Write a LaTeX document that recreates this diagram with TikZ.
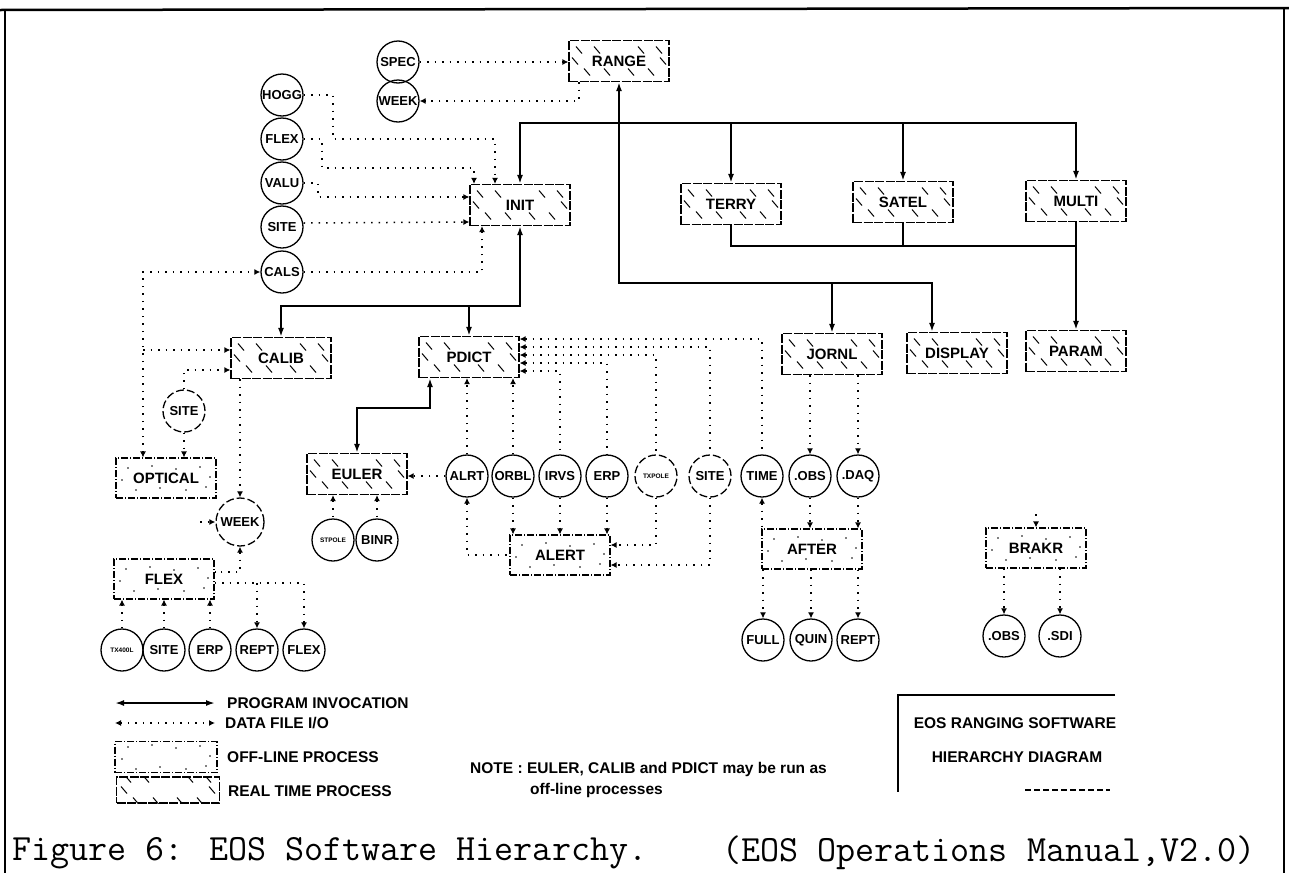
\documentclass[tikz,border=0pt]{standalone}
\usepackage{fontspec}
\newfontfamily\diafont{Liberation Sans}
\usepackage{tikz}
\usetikzlibrary{arrows.meta}

\begin{document}
\begin{tikzpicture}[x=1pt,y=-1pt]
    \tikzstyle{arrow} = [line width=1.8pt, >={Latex[length=9pt,width=6pt]}]
    \tikzstyle{data} = [line width=1.5pt, dash pattern=on 1.5pt off 6pt, >={Latex[length=6pt,width=6pt]}]
    \tikzstyle{realtime} = [draw, line width=1.2pt, dash pattern=on 9pt off 1.5pt,
        minimum width=100pt, minimum height=41pt, inner sep=0pt,
        font={\diafont\bfseries\fontsize{15}{17}\selectfont},
        path picture={
          \foreach \dx/\dy in {-40/11,-22/11,22/11,40/11,-32/-11,-12/-11,12/-11,32/-11,-44/0,44/0}
            \draw[solid, line width=1pt] ([shift={(\dx pt,\dy pt)}]path picture bounding box.center)
              ++(-3pt,3.5pt) -- ++(6pt,-7pt);
        }]
    \tikzstyle{offline} = [draw, line width=1.1pt, dash pattern=on 7pt off 2pt on 1pt off 2pt,
        minimum width=100pt, minimum height=40pt, inner sep=0pt,
        font={\diafont\bfseries\fontsize{15}{17}\selectfont},
        path picture={
          \foreach \dx/\dy in {-38/10,-14/12,10/9,34/11,-44/-2,44/1,-30/-12,-6/-10,20/-12,40/-9}
            \fill ([shift={(\dx pt,\dy pt)}]path picture bounding box.center) circle (0.9pt);
        }]
    \tikzstyle{file} = [draw, circle, line width=1.3pt, minimum size=42pt, inner sep=0pt,
        font={\diafont\bfseries\fontsize{13}{15}\selectfont}]
    \tikzstyle{scratch} = [file, dash pattern=on 8pt off 3pt]
    \tikzstyle{tiny} = [font={\diafont\bfseries\fontsize{6.5}{7}\selectfont}]
    \tikzstyle{legend} = [anchor=west, inner sep=0pt, font={\diafont\bfseries\fontsize{15.5}{17}\selectfont}]
    \useasboundingbox (0,0) rectangle (1289,873);

    % Frame
    \draw[line width=2.5pt] (0,10) -- (1289,8);
    \draw[line width=2pt] (5,10) -- (5,873);
    \draw[line width=2pt] (1284,8) -- (1284,873);

    % Top process and its files
    \node [realtime] (Range) at (619,61) {RANGE};
    \node [file] (Spec) at (398,62) {SPEC};
    \node [file] (WeekIn) at (398,101) {WEEK};
    \draw [data,->] (Spec.east) -- (Spec.east -| Range.west);
    \draw [data,->] ([xshift=-40pt]Range.south) |- (WeekIn.east);

    % Second level, called from RANGE
    \node [realtime] (Init) at (520,205) {INIT};
    \node [realtime] (Terry) at (731,204) {TERRY};
    \node [realtime] (Satel) at (903,202) {SATEL};
    \node [realtime] (Multi) at (1076,201) {MULTI};
    \coordinate (RangeBus) at (619,123);
    \draw [arrow,<-] (Range.south) -- (RangeBus);
    \draw [arrow,->] (RangeBus) -| (Init.north);
    \draw [arrow,->] (RangeBus) -| (Multi.north);
    \draw [arrow,->] (Terry.north |- RangeBus) -- (Terry.north);
    \draw [arrow,->] (Satel.north |- RangeBus) -- (Satel.north);

    % Files read by INIT
    \node [file] (Hogg) at (282,95) {HOGG};
    \node [file] (FlexIn) at (282,139) {FLEX};
    \node [file] (Valu) at (282,183) {VALU};
    \node [file] (SiteIn) at (282,227) {SITE};
    \node [file] (Cals) at (282,272) {CALS};
    \draw [data,->] (Hogg.east) -| (333,139) -| ([xshift=-25pt]Init.north);
    \draw [data,->] (FlexIn.east) -| (322,168) -| ([xshift=-46pt]Init.north);
    \draw [data,->] (Valu.east) -| (318,197) -- ([yshift=8pt]Init.west);
    \draw [data,->] ([yshift=4pt]SiteIn.east) -- ([yshift=-17pt]Init.west);
    \draw [data,->] (Cals.east) -| ([xshift=-38pt]Init.south);

    % TERRY, SATEL and MULTI call PARAM
    \node [realtime] (Param) at (1076,351) {PARAM};
    \coordinate (ParamBus) at (1076,246);
    \draw [arrow] (Terry.south) |- (ParamBus);
    \draw [arrow] (Satel.south) -- (Satel.south |- ParamBus);
    \draw [arrow,->] (Multi.south) -- (Param.north);

    % RANGE calls JORNL and DISPLAY
    \node [realtime] (Jornl) at (832,354) {JORNL};
    \node [realtime] (Display) at (957,353) {DISPLAY};
    \coordinate (JornlBus) at (832,283);
    \draw [arrow,->] (RangeBus) |- (JornlBus) -- (Jornl.north);
    \draw [arrow,->] (JornlBus) -| ([xshift=-25pt]Display.north);

    % INIT calls CALIB and PDICT
    \node [realtime] (Calib) at (281,358) {CALIB};
    \node [realtime] (Pdict) at (469,357) {PDICT};
    \coordinate (InitBus) at (520,306);
    \draw [arrow,<->] (Init.south) -- (InitBus) -| (Calib.north);
    \draw [arrow,->] (Pdict.north |- InitBus) -- (Pdict.north);

    % CALIB, OPTICAL and WEEK
    \node [offline] (Optical) at (166,478) {OPTICAL};
    \node [scratch] (SiteCal) at (184,411) {SITE};
    \node [scratch, minimum size=48pt] (WeekOpt) at (240,522) {WEEK};
    \coordinate (CalsDrop) at (143,350);
    \coordinate (WeekStub) at (200,522);
    \draw [data,<->] ([xshift=-23pt]Optical.north) |- (Cals.west);
    \draw [data,->] (CalsDrop) -- (CalsDrop -| Calib.west);
    \draw [data,->] (SiteCal.north) |- ([yshift=-12pt]Calib.west);
    \draw [data,->] (SiteCal.south) -- (SiteCal.south |- Optical.north);
    \draw [data,->] ([xshift=-41pt]Calib.south) -- (WeekOpt.north);
    \draw [data,->] (WeekStub) -- (WeekOpt.west);

    % FLEX and its files
    \node [offline] (FlexBox) at (164,579) {FLEX};
    \node [file, tiny] (TxFile) at (122,650) {TX400L};
    \node [file] (SiteOpt) at (164,650) {SITE};
    \node [file] (ErpOpt) at (210,650) {ERP};
    \node [file] (ReptOpt) at (257,650) {REPT};
    \node [file] (FlexOut) at (304,650) {FLEX};
    \coordinate (FlexTap) at (257,583);
    \draw [data,<-] (WeekOpt.south) |- ([yshift=7pt]FlexBox.east);
    \draw [data,->] ([yshift=-4pt]FlexBox.east) -| (FlexOut.north);
    \draw [data,->] (FlexTap) -- (ReptOpt.north);
    \draw [data,<-] ([xshift=-42pt]FlexBox.south) -- (TxFile.north);
    \draw [data,<-] (FlexBox.south) -- (SiteOpt.north);
    \draw [data,<-] ([xshift=46pt]FlexBox.south) -- (ErpOpt.north);

    % PDICT calls EULER
    \node [realtime] (Euler) at (357,474) {EULER};
    \node [file, tiny] (StPole) at (333,540) {STPOLE};
    \node [file] (Binr) at (377,540) {BINR};
    \draw [arrow,<->] ([xshift=-39pt]Pdict.south) -- ++(0,30) -| (Euler.north);
    \draw [data,<-] ([xshift=-24pt]Euler.south) -- (StPole.north);
    \draw [data,<-] ([xshift=20pt]Euler.south) -- (Binr.north);

    % Files of PDICT
    \node [file] (Alrt) at (467,476) {ALRT};
    \node [file] (Orbl) at (513,476) {ORBL};
    \node [file] (Irvs) at (560,476) {IRVS};
    \node [file] (ErpDict) at (607,476) {ERP};
    \node [scratch, tiny] (TxPole) at (656,476) {TXPOLE};
    \node [scratch] (SiteDict) at (710,476) {SITE};
    \node [file] (Time) at (762,476) {TIME};
    \node [file] (ObsDict) at (810,476) {.OBS};
    \node [file] (Daq) at (858,476) {.DAQ};
    \draw [data,->] (Alrt.west) -- (Alrt.west -| Euler.east);
    \draw [data,->] (Alrt.north) -- (Alrt.north |- Pdict.south);
    \draw [data,->] (Orbl.north) -- (Orbl.north |- Pdict.south);
    \draw [data,<-] ([yshift=18pt]Pdict.east) -| (Time.north);
    \draw [data,<-] ([yshift=10pt]Pdict.east) -| (SiteDict.north);
    \draw [data,<-] ([yshift=2pt]Pdict.east) -| (TxPole.north);
    \draw [data,<-] ([yshift=-6pt]Pdict.east) -| (ErpDict.north);
    \draw [data,<-] ([yshift=-14pt]Pdict.east) -| (Irvs.north);

    % ALERT
    \node [offline] (Alert) at (560,555) {ALERT};
    \draw [data,<-] (Alrt.south) |- (Alert.west);
    \draw [data,->] (Orbl.south) -- (Orbl.south |- Alert.north);
    \draw [data,->] (Irvs.south) -- (Irvs.south |- Alert.north);
    \draw [data,->] (ErpDict.south) -- (ErpDict.south |- Alert.north);
    \draw [data,->] (TxPole.south) |- ([yshift=10pt]Alert.east);
    \draw [data,->] (SiteDict.south) |- ([yshift=-10pt]Alert.east);

    % AFTER and its files
    \node [offline] (After) at (812,549) {AFTER};
    \node [file] (Full) at (763,640) {FULL};
    \node [file] (Quin) at (811,640) {QUIN};
    \node [file] (ReptAfter) at (858,640) {REPT};
    \draw [data,->] ([xshift=-22pt]Jornl.south) -- (ObsDict.north);
    \draw [data,->] ([xshift=26pt]Jornl.south) -- (Daq.north);
    \draw [data,<-] (Time.south) -- (Time.south |- After.north);
    \draw [data,->] (ObsDict.south) -- (ObsDict.south |- After.north);
    \draw [data,->] (Daq.south) -- (Daq.south |- After.north);
    \draw [data,->] (Full.north |- After.south) -- (Full.north);
    \draw [data,->] (Quin.north |- After.south) -- (Quin.north);
    \draw [data,->] (ReptAfter.north |- After.south) -- (ReptAfter.north);

    % BRAKR and its files
    \node [offline] (Brakr) at (1036,548) {BRAKR};
    \node [file] (ObsBrakr) at (1004,636) {.OBS};
    \node [file] (Sdi) at (1060,636) {.SDI};
    \coordinate (BrakrStub) at (1036,514);
    \draw [data,->] (BrakrStub) -- (Brakr.north);
    \draw [data,->] (ObsBrakr.north |- Brakr.south) -- (ObsBrakr.north);
    \draw [data,->] (Sdi.north |- Brakr.south) -- (Sdi.north);

    % Legend
    \coordinate (LegInvA) at (115,703);
    \coordinate (LegInvB) at (215,703);
    \coordinate (LegDataA) at (115,723);
    \coordinate (LegDataB) at (215,723);
    \draw [arrow,<->] (LegInvA) -- (LegInvB);
    \draw [data,<->] (LegDataA) -- (LegDataB);
    \node [legend] (LegInvText) at (227,703) {PROGRAM INVOCATION};
    \node [legend] (LegDataText) at (225,723) {DATA FILE I/O};
    \node [offline, minimum width=102pt, minimum height=31pt] (LegOff) at (166,757) {};
    \node [legend] (LegOffText) at (227,757) {OFF-LINE PROCESS};
    \node [realtime, minimum width=103pt, minimum height=26pt] (LegReal) at (168,790) {};
    \node [legend] (LegRealText) at (228,791) {REAL TIME PROCESS};

    % Note
    \node [legend] (NoteA) at (470,769) {NOTE : EULER, CALIB and PDICT may be run as};
    \node [legend] (NoteB) at (530,790) {off-line processes};

    % Title block
    \draw [line width=1.4pt] (1115,695) -- (898,695) -- (898,792);
    \draw [line width=1.2pt, dash pattern=on 6pt off 3pt] (1025,790) -- (1110,790);
    \node [legend, anchor=center] (TitleTop) at (1015,723) {EOS RANGING SOFTWARE};
    \node [legend, anchor=center] (TitleBottom) at (1017,757) {HIERARCHY DIAGRAM};

    % Caption
    \node [anchor=west, inner sep=0pt, font={\ttfamily\fontsize{37}{40}\selectfont}] (CaptionLeft) at (12,853)
        {Figure 6: EOS Software Hierarchy.};
    \node [anchor=west, inner sep=0pt, font={\ttfamily\fontsize{37}{40}\selectfont}] (CaptionRight) at (722,853)
        {(EOS Operations Manual,V2.0)};
\end{tikzpicture}
\end{document}
